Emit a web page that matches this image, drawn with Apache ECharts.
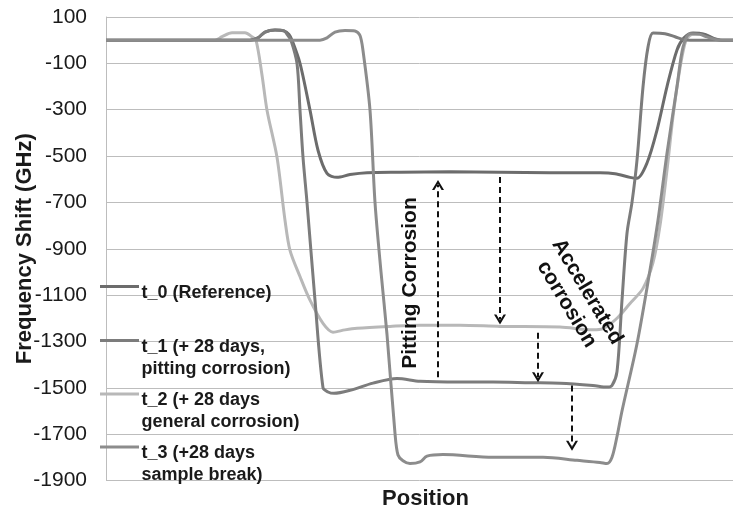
<!DOCTYPE html>
<html>
<head>
<meta charset="utf-8">
<script src="https://cdn.jsdelivr.net/npm/echarts@6/dist/echarts.min.js"></script>
<style>
html,body{margin:0;padding:0;background:#fff;}
#chart{width:733px;height:510px;}
</style>
</head>
<body>
<div id="chart"></div>
<script>
// ---- data (position in arbitrary units along the sample, frequency shift in GHz) ----
const yTicks = [-1900, -1700, -1500, -1300, -1100, -900, -700, -500, -300, -100, 100];
const seriesNames = ['t_0 (Reference)', 't_1 (+ 28 days,\npitting corrosion)', 't_2 (+ 28 days\ngeneral corrosion)', 't_3 (+28 days\nsample break)'];

const t0 = [[0,0],[100,0],[144,0],[152,10],[159,35],[169,44],[178,40],[183,25],[186,0],[194,-100],[204,-302],[212,-475],[221,-575],[231,-592],[244,-580],[261,-572],[294,-570],[344,-568],[394,-570],[444,-572],[494,-572],[509,-576],[524,-592],[531,-596],[541,-530],[551,-388],[561,-200],[571,-42],[578,10],[587,31],[599,25],[607,9],[616,0],[627,0]];

const t1 = [[0,0],[100,0],[144,0],[152,10],[159,35],[169,44],[178,40],[182,20],[185,0],[191,-100],[194,-302],[197,-505],[201,-700],[209,-1122],[217,-1500],[222,-1518],[228,-1524],[244,-1511],[267,-1480],[291,-1460],[314,-1472],[354,-1475],[387,-1475],[424,-1478],[454,-1480],[487,-1490],[501,-1497],[506,-1490],[511,-1430],[516,-1122],[521,-833],[526,-700],[531,-518],[537,-202],[542,-30],[547,31],[559,28],[569,15],[577,3],[584,0],[627,0]];

const t2 = [[0,0],[100,0],[109,0],[116,15],[126,32],[139,32],[146,15],[150,0],[156,-150],[161,-302],[171,-505],[179,-777],[184,-907],[194,-1020],[204,-1122],[217,-1222],[227,-1260],[239,-1250],[251,-1243],[284,-1235],[314,-1230],[354,-1230],[394,-1235],[454,-1238],[487,-1250],[497,-1245],[511,-1200],[524,-1136],[537,-1071],[547,-960],[554,-800],[561,-560],[567,-330],[574,-120],[580,0],[586,25],[596,28],[606,10],[616,0],[627,0]];

const t3 = [[0,0],[100,0],[214,0],[221,10],[229,35],[239,42],[249,40],[254,20],[257,-45],[264,-302],[269,-700],[275,-1000],[281,-1270],[289,-1697],[292,-1790],[297,-1815],[304,-1827],[314,-1820],[321,-1795],[337,-1788],[387,-1800],[437,-1800],[471,-1813],[494,-1822],[501,-1827],[506,-1800],[511,-1710],[516,-1600],[531,-1310],[544,-992],[552,-777],[561,-488],[571,-200],[577,-30],[584,28],[594,25],[601,14],[614,0],[627,0]];

const seriesData = [t0, t1, t2, t3];
const seriesColors = ['#6c6c6c', '#7c7c7c', '#b8b8b8', '#8c8c8c'];

// annotation arrows: [position, fromShift, toShift]
const arrowPitting = [332, -1455, -625];
const arrowsAccel = [[394, -590, -1205], [432, -1262, -1455], [466, -1490, -1750]];

const annoPitting = 'Pitting Corrosion';
const annoAccel = 'Accelerated\ncorrosion';

// ---- chart ----
const FONT = 'Liberation Sans, Arial, Helvetica, sans-serif';
const chart = echarts.init(document.getElementById('chart'), null, {renderer: 'canvas'});
const chevron = 'path://M0,10 L5,0 L10,10 L8,10 L5,4 L2,10 Z';

function arrowLine(a) {
  return [{coord: [a[0], a[1]]}, {coord: [a[0], a[2]]}];
}

const series = seriesData.map((d, i) => ({
  name: seriesNames[i],
  type: 'line',
  data: d,
  smooth: 0.3,
  showSymbol: false,
  symbol: 'none',
  lineStyle: {color: seriesColors[i], width: 3},
  itemStyle: {color: seriesColors[i]},
  z: 2 + (i === 2 ? 0 : 1),
  animation: false
}));

series[0].markLine = {
  silent: true,
  animation: false,
  symbol: ['none', chevron],
  symbolSize: [12, 10],
  label: {show: false},
  lineStyle: {color: '#111', type: [6, 4], width: 2},
  data: [arrowLine(arrowPitting)].concat(arrowsAccel.map(arrowLine))
};

const legendGraphics = [];
const legendLineY = [286.5, 340.5, 394, 447];
seriesNames.forEach((n, i) => {
  legendGraphics.push({
    type: 'line', silent: true, z: 10,
    shape: {x1: 100, y1: legendLineY[i], x2: 139, y2: legendLineY[i]},
    style: {stroke: seriesColors[i], lineWidth: 3}
  });
  legendGraphics.push({
    type: 'text', silent: true, z: 10,
    x: 141.5, y: legendLineY[i] - 4.5,
    style: {text: n, font: 'bold 18px ' + FONT, fill: '#1a1a1a', lineHeight: 21.7, verticalAlign: 'top', align: 'left'}
  });
});

const option = {
  backgroundColor: '#ffffff',
  animation: false,
  grid: {left: 106, right: 0, top: 17, bottom: 29.5, containLabel: false, outerBoundsMode: 'none'},
  xAxis: {
    type: 'value', min: 0, max: 627,
    name: 'Position', nameLocation: 'middle', nameGap: 7, nameMoveOverlap: false,
    nameTextStyle: {fontFamily: FONT, fontWeight: 'bold', fontSize: 22, color: '#1a1a1a', padding: [0, 0, 0, 12]},
    axisLine: {show: false}, axisTick: {show: false}, axisLabel: {show: false}, splitLine: {show: false}
  },
  yAxis: {
    type: 'value', min: yTicks[0], max: yTicks[yTicks.length - 1], interval: 200,
    name: 'Frequency Shift (GHz)', nameLocation: 'middle', nameGap: 70, nameMoveOverlap: false,
    nameTextStyle: {fontFamily: FONT, fontWeight: 'bold', fontSize: 22, color: '#1a1a1a'},
    axisLine: {show: true, lineStyle: {color: '#bdbdbd', width: 1}},
    axisTick: {show: false},
    axisLabel: {margin: 19, fontFamily: FONT, fontSize: 21, color: '#1a1a1a', formatter: v => String(v)},
    splitLine: {show: true, lineStyle: {color: '#bdbdbd', width: 1}}
  },
  series: series,
  graphic: legendGraphics.concat([
    {
      type: 'text', silent: true, z: 10,
      x: 410, y: 283, rotation: Math.PI / 2,
      style: {text: annoPitting, font: 'bold 21px ' + FONT, fill: '#111', align: 'center', verticalAlign: 'middle'}
    },
    {
      type: 'text', silent: true, z: 10,
      x: 577, y: 298, rotation: -59 * Math.PI / 180,
      style: {text: annoAccel, font: 'bold 21px ' + FONT, fill: '#111', align: 'center', verticalAlign: 'middle', lineHeight: 24}
    }
  ])
};
chart.setOption(option);
</script>
</body>
</html>
